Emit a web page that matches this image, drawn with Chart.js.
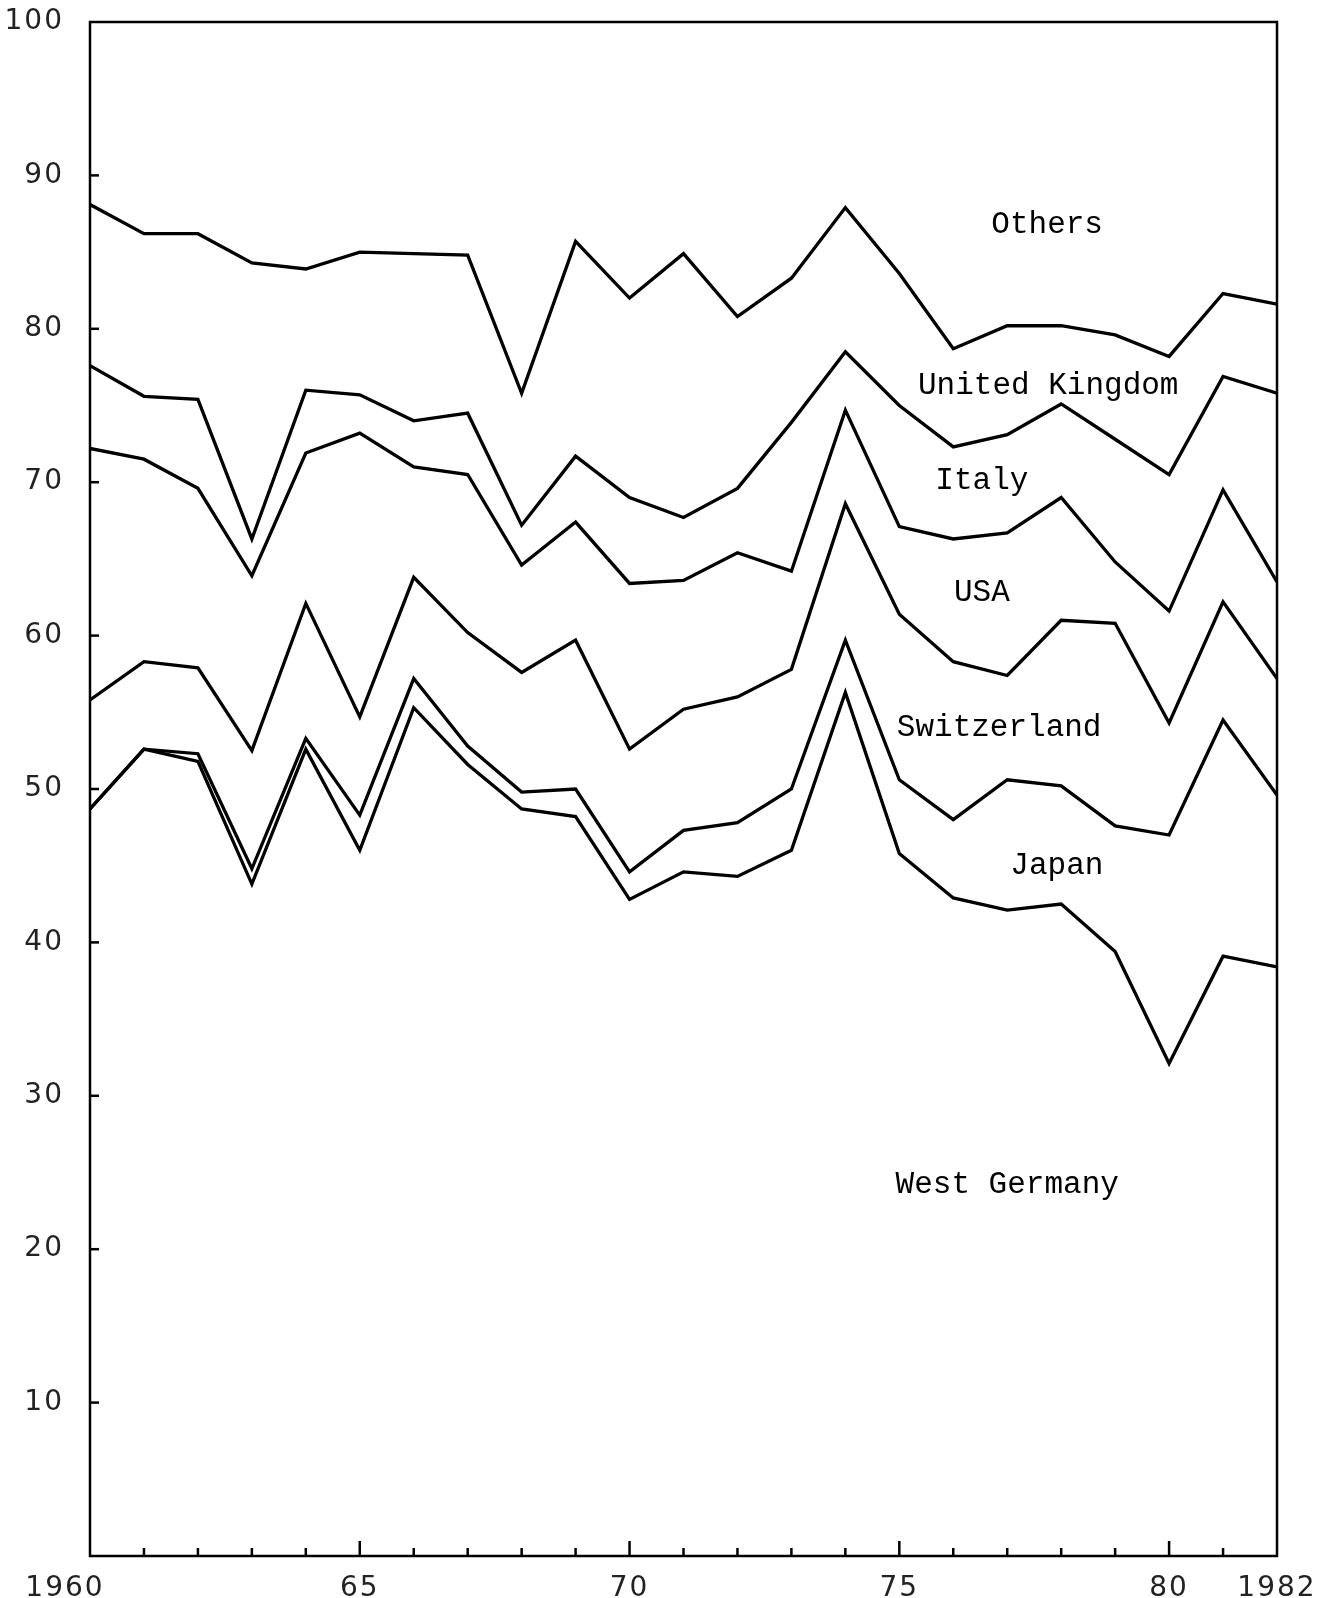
<!DOCTYPE html>
<html>
<head>
<meta charset="utf-8">
<script src="https://cdn.jsdelivr.net/npm/chart.js@4.4.1/dist/chart.umd.min.js"></script>
<style>
  body { margin: 0; background: #fff; }
  #grafico { display: block; }
</style>
</head>
<body>
<canvas id="grafico" width="1320" height="1598"></canvas>
<script>
// anos
var years = [1960, 1961, 1962, 1963, 1964, 1965, 1966, 1967, 1968, 1969, 1970, 1971,
             1972, 1973, 1974, 1975, 1976, 1977, 1978, 1979, 1980, 1981, 1982];

// cumulative shares (%), each line is the top of a band
var westGermany = [48.7, 52.6, 51.8, 43.8, 52.6, 46.0, 55.3, 51.6, 48.7, 48.2, 42.8, 44.6,
                   44.3, 46.0, 56.3, 45.8, 42.9, 42.1, 42.5, 39.4, 32.1, 39.1, 38.4];
var thruJapan = [48.7, 52.6, 52.3, 44.8, 53.3, 48.3, 57.2, 52.8, 49.8, 50.0, 44.6, 47.3,
                 47.8, 50.0, 59.7, 50.6, 48.0, 50.6, 50.2, 47.6, 47.0, 54.5, 49.6];
var thruSwitzerland = [55.8, 58.3, 57.9, 52.5, 62.1, 54.7, 63.8, 60.2, 57.6, 59.7, 52.6, 55.2,
                       56.0, 57.8, 68.6, 61.4, 58.3, 57.4, 61.0, 60.8, 54.3, 62.2, 57.2];
var thruUSA = [72.2, 71.5, 69.6, 63.9, 71.9, 73.2, 71.0, 70.5, 64.6, 67.4, 63.4, 63.6,
               65.4, 64.2, 74.7, 67.1, 66.3, 66.7, 69.0, 64.8, 61.6, 69.5, 63.5];
var thruItaly = [77.6, 75.6, 75.4, 66.3, 76.0, 75.7, 74.0, 74.5, 67.2, 71.7, 69.0, 67.7,
                 69.6, 73.9, 78.5, 75.0, 72.3, 73.1, 75.1, 72.8, 70.5, 76.9, 75.8];
var thruUK = [88.1, 86.2, 86.2, 84.3, 83.9, 85.0, 84.9, 84.8, 75.8, 85.7, 82.0, 84.9,
              80.8, 83.3, 87.9, 83.6, 78.7, 80.2, 80.2, 79.6, 78.2, 82.3, 81.6];

// rótulos das faixas
var bandNames = ['Others', 'United Kingdom', 'Italy', 'USA', 'Switzerland', 'Japan', 'West Germany'];
var bandYear = [1977.74, 1977.76, 1976.53, 1976.53, 1976.85, 1977.92, 1977.0];
var bandValue = [86.8, 76.3, 70.1, 62.8, 54.0, 45.0, 24.2];

// tick labels
var yTicks = [10, 20, 30, 40, 50, 60, 70, 80, 90, 100];
var xTickYears = [1960, 1965, 1970, 1975, 1980, 1982];
var xTickText = ['1960', '65', '70', '75', '80', '1982'];

function pts(vals) {
    return vals.map(function (v, i) { return { x: years[i], y: v }; });
}

function serie(label, vals) {
    return {
        label: label,
        data: pts(vals),
        borderColor: '#000',
        borderWidth: 3.3,
        pointRadius: 0,
        tension: 0,
        fill: false
    };
}

var data = {
    datasets: [
        serie('West Germany', westGermany),
        serie('Japan', thruJapan),
        serie('Switzerland', thruSwitzerland),
        serie('USA', thruUSA),
        serie('Italy', thruItaly),
        serie('United Kingdom', thruUK)
    ]
};

// moldura, marcas e textos
var extras = {
    id: 'extras',
    afterDraw: function (chart) {
        var ctx = chart.ctx;
        var a = chart.chartArea;
        var xs = chart.scales.x;
        var ys = chart.scales.y;
        ctx.save();
        ctx.strokeStyle = '#000';
        ctx.lineWidth = 2.5;
        ctx.strokeRect(a.left, a.top, a.right - a.left, a.bottom - a.top);

        // marcas do eixo y
        for (var v = 10; v < 100; v += 10) {
            var py = ys.getPixelForValue(v);
            ctx.beginPath();
            ctx.moveTo(a.left, py);
            ctx.lineTo(a.left + 9, py);
            ctx.stroke();
        }
        // marcas do eixo x
        for (var yr = 1961; yr < 1982; yr++) {
            var px = xs.getPixelForValue(yr);
            var len = yr % 5 === 0 ? 15 : 8;
            ctx.beginPath();
            ctx.moveTo(px, a.bottom);
            ctx.lineTo(px, a.bottom - len);
            ctx.stroke();
        }

        ctx.fillStyle = '#222';
        ctx.font = '28px "DejaVu Sans"';
        ctx.letterSpacing = '2px';
        ctx.textBaseline = 'middle';
        ctx.textAlign = 'right';
        yTicks.forEach(function (t) {
            ctx.fillText(String(t), a.left - 26, ys.getPixelForValue(t));
        });
        ctx.textAlign = 'center';
        xTickYears.forEach(function (yr, i) {
            var px = xs.getPixelForValue(yr);
            if (i === 0) px -= 25;
            ctx.fillText(xTickText[i], px, a.bottom + 33);
        });

        ctx.letterSpacing = '0px';
        ctx.fillStyle = '#000';
        ctx.font = '31px "Liberation Mono"';
        bandNames.forEach(function (name, i) {
            ctx.fillText(name, xs.getPixelForValue(bandYear[i]), ys.getPixelForValue(bandValue[i]));
        });
        ctx.restore();
    }
};

var options = {
    responsive: false,
    animation: false,
    events: [],
    devicePixelRatio: 1,
    layout: { padding: { left: 0, top: 22, right: 43, bottom: 0 } },
    plugins: {
        legend: { display: false },
        tooltip: { enabled: false }
    },
    scales: {
        x: {
            type: 'linear',
            min: 1960,
            max: 1982,
            grid: { display: false },
            border: { display: false },
            ticks: { display: false },
            afterFit: function (s) { s.height = 42; }
        },
        y: {
            min: 0,
            max: 100,
            grid: { display: false, drawTicks: false },
            border: { display: false },
            ticks: { display: false, stepSize: 10 },
            afterFit: function (s) { s.width = 90; }
        }
    }
};

var ctx = document.querySelector('#grafico');
var lineChart = new Chart(ctx, {
    type: 'line',
    data: data,
    options: options,
    plugins: [extras]
});
</script>
</body>
</html>
